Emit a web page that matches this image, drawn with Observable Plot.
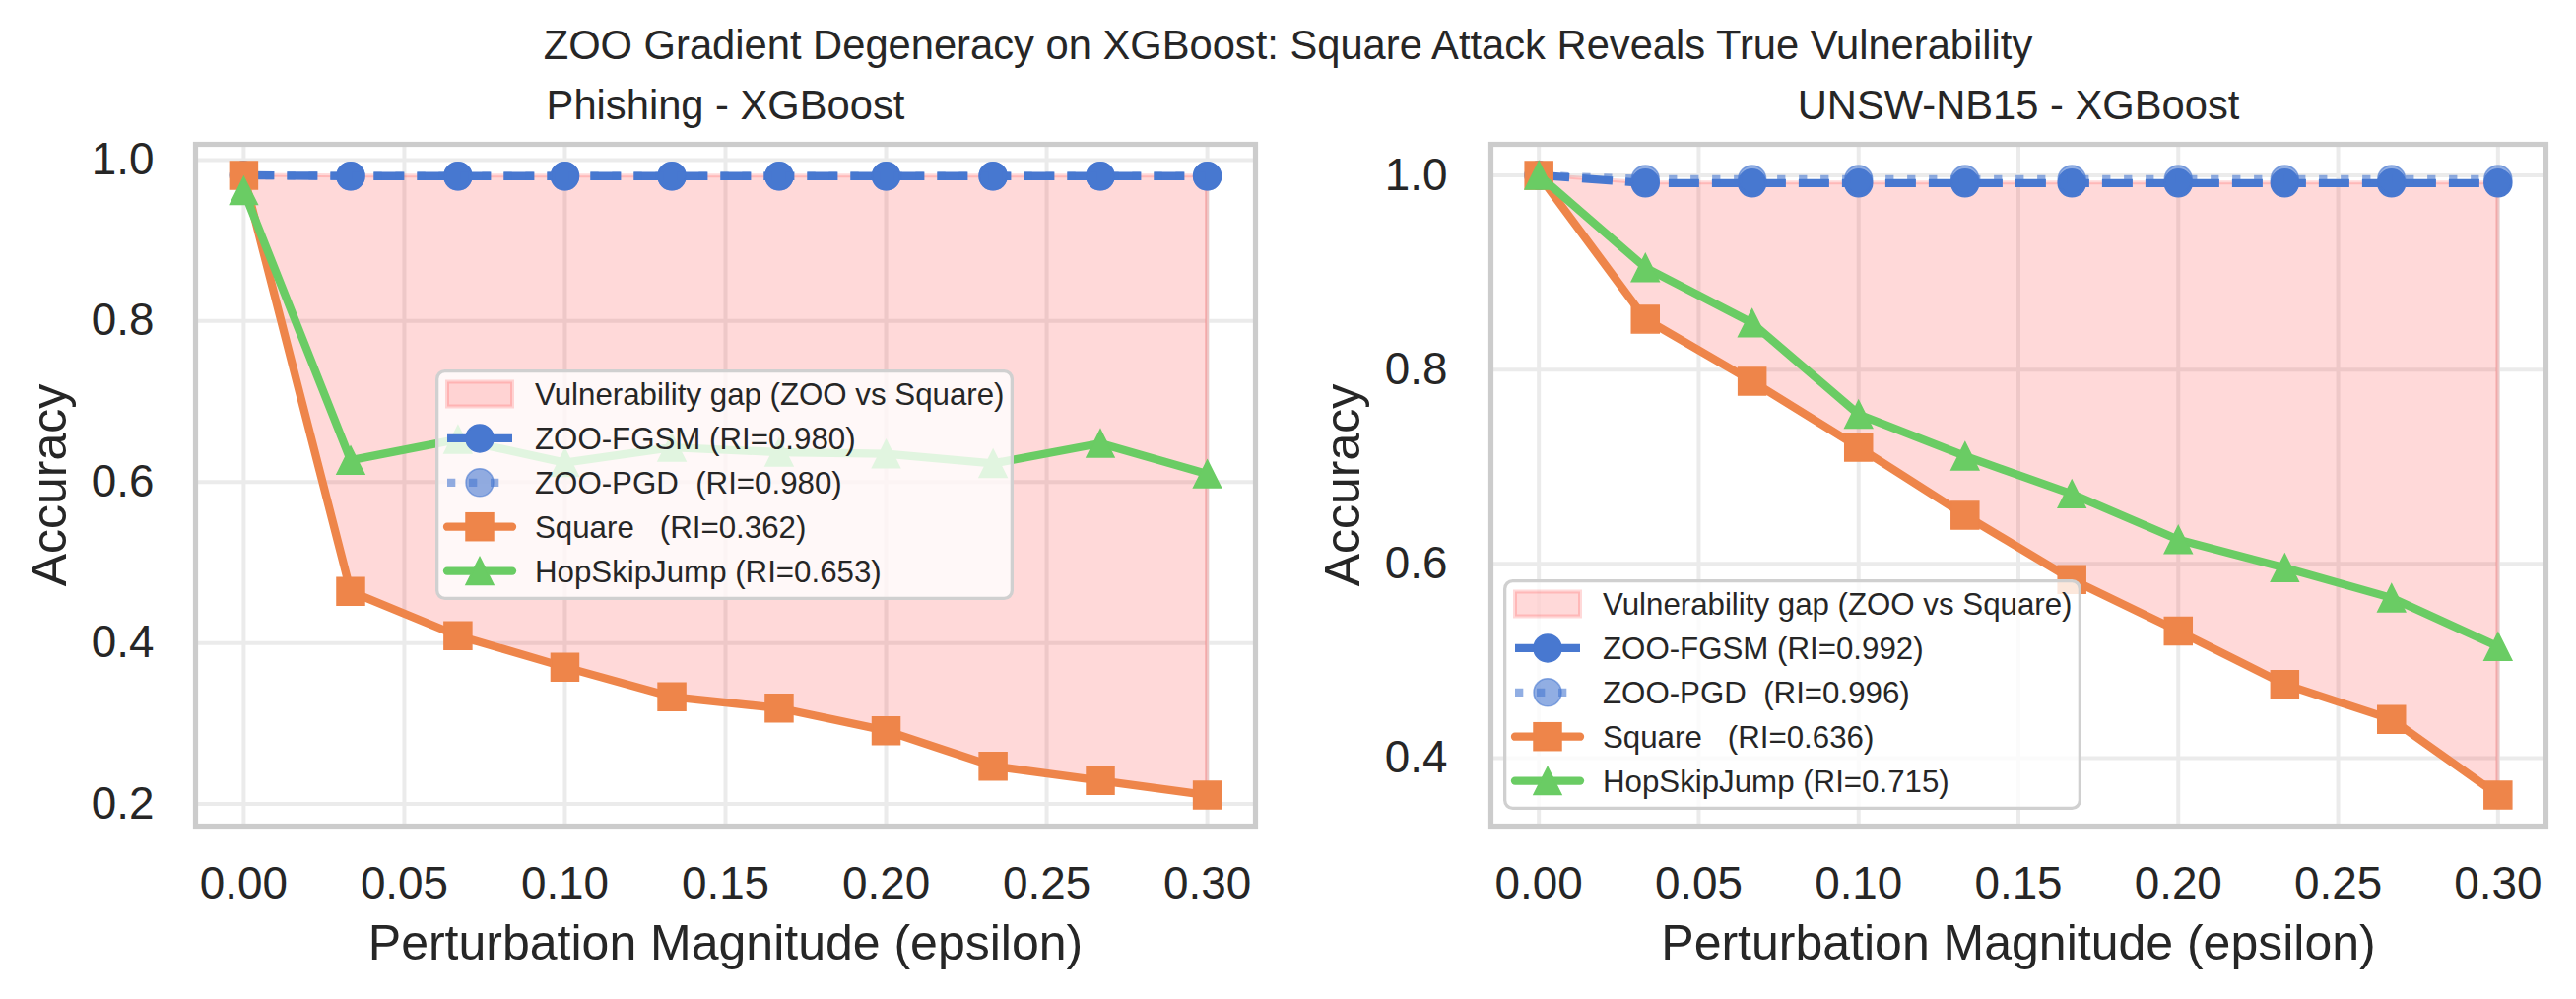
<!DOCTYPE html>
<html>
<head>
<meta charset="utf-8">
<script src="https://cdn.jsdelivr.net/npm/d3@7"></script>
<script src="https://cdn.jsdelivr.net/npm/@observablehq/plot@0.6"></script>
<style>
  body { margin: 0; background: #ffffff; }
  #fig {
    position: relative; width: 2615px; height: 1014px; overflow: hidden;
    font-family: "Liberation Sans", Arial, sans-serif; color: #262626; background: #ffffff;
  }
  .panel { position: absolute; top: 0; }
  .suptitle {
    position: absolute; left: 0; top: 25px; width: 2615px; text-align: center;
    font-size: 41.7px; line-height: 41.7px; white-space: pre;
  }
  .legend { position: absolute; }
</style>
</head>
<body>
<div id="fig">
  <div class="suptitle" id="suptitle"></div>
</div>
<script>
// Perturbation budgets evaluated
const epsilon = [0, 0.0333, 0.0667, 0.1, 0.1333, 0.1667, 0.2, 0.2333, 0.2667, 0.3];

// Phishing - XGBoost accuracy per attack
const phishingZooFgsm = [0.981, 0.980, 0.980, 0.980, 0.980, 0.980, 0.980, 0.980, 0.980, 0.980];
const phishingZooPgd  = [0.981, 0.980, 0.980, 0.980, 0.980, 0.980, 0.980, 0.980, 0.980, 0.980];
const phishingSquare  = [0.981, 0.464, 0.409, 0.370, 0.333, 0.319, 0.291, 0.247, 0.229, 0.211];
const phishingHsj     = [0.962, 0.627, 0.653, 0.624, 0.643, 0.637, 0.635, 0.623, 0.648, 0.610];

// UNSW-NB15 - XGBoost accuracy per attack
const unswZooFgsm = [1.000, 0.992, 0.992, 0.992, 0.992, 0.992, 0.992, 0.992, 0.992, 0.992];
const unswZooPgd  = [1.000, 0.996, 0.996, 0.996, 0.996, 0.996, 0.996, 0.996, 0.996, 0.996];
const unswSquare  = [1.000, 0.852, 0.788, 0.720, 0.650, 0.584, 0.531, 0.476, 0.440, 0.362];
const unswHsj     = [1.000, 0.905, 0.848, 0.754, 0.711, 0.672, 0.625, 0.596, 0.565, 0.515];

// Tick values
const xTicks = [0, 0.05, 0.10, 0.15, 0.20, 0.25, 0.30];
const phishingYTicks = [0.2, 0.4, 0.6, 0.8, 1.0];
const unswYTicks = [0.4, 0.6, 0.8, 1.0];

// Text
const figureTitle = "ZOO Gradient Degeneracy on XGBoost: Square Attack Reveals True Vulnerability";
const panelTitles = ["Phishing - XGBoost", "UNSW-NB15 - XGBoost"];
const xLabel = "Perturbation Magnitude (epsilon)";
const yLabel = "Accuracy";
const gapLabel = "Vulnerability gap (ZOO vs Square)";
const phishingLegendLabels = ["ZOO-FGSM (RI=0.980)", "ZOO-PGD  (RI=0.980)", "Square   (RI=0.362)", "HopSkipJump (RI=0.653)"];
const unswLegendLabels     = ["ZOO-FGSM (RI=0.992)", "ZOO-PGD  (RI=0.996)", "Square   (RI=0.636)", "HopSkipJump (RI=0.715)"];

// Palette
const BLUE = "#4878d0", ORANGE = "#ee854a", GREEN = "#6acc64", GAP = "#ff0000";
const TEXT = "#262626", FONT = '"Liberation Sans", Arial, sans-serif';
const LW = 8.3, DASHED = "31,13", DOTTED = "8.3,13.7", MARKER_R = 14;

// Marker shapes sized so that the half-width equals the dot radius
const squareSymbol = {
  draw(ctx, size) {
    const r = Math.sqrt(size / Math.PI);
    ctx.moveTo(-r, -r); ctx.lineTo(r, -r); ctx.lineTo(r, r); ctx.lineTo(-r, r); ctx.closePath();
  }
};
const triangleSymbol = {
  draw(ctx, size) {
    const r = Math.sqrt(size / Math.PI);
    ctx.moveTo(0, -r); ctx.lineTo(r, r); ctx.lineTo(-r, r); ctx.closePath();
  }
};

function panel({title, fgsm, pgd, square, hsj, yTicks, width, marginLeft, marginRight, tickPadY, yLabelDx}) {
  const rows = epsilon.map((e, i) => ({e, fgsm: fgsm[i], pgd: pgd[i], square: square[i], hsj: hsj[i]}));
  const [ylo, yhi] = d3.extent([...fgsm, ...pgd, ...square, ...hsj]);
  const ypad = (yhi - ylo) * 0.05;
  const [xlo, xhi] = d3.extent(epsilon);
  const xpad = (xhi - xlo) * 0.05;
  const grid = {stroke: "#ebebeb", strokeOpacity: 1, strokeWidth: 4};
  const series = (key, color, opts = {}) => [
    Plot.line(rows, {x: "e", y: key, stroke: color, strokeWidth: LW, strokeLinejoin: "round",
      strokeLinecap: opts.dash ? "butt" : "square", strokeDasharray: opts.dash, strokeOpacity: opts.opacity ?? 1}),
    Plot.dot(rows, {x: "e", y: key, r: MARKER_R, symbol: opts.symbol ?? "circle", fill: color,
      fillOpacity: opts.opacity ?? 1, stroke: color, strokeWidth: 1.5, strokeOpacity: opts.opacity ?? 1})
  ];
  return Plot.plot({
    width, height: 1014, marginLeft, marginRight, marginTop: 146, marginBottom: 176,
    style: {fontFamily: FONT, fontSize: "45.8px", color: TEXT, background: "transparent", overflow: "visible"},
    x: {domain: [xlo - xpad, xhi + xpad]},
    y: {domain: [ylo - ypad, yhi + ypad]},
    marks: [
      Plot.gridX(xTicks, grid),
      Plot.gridY(yTicks, grid),
      Plot.areaY(rows, {x: "e", y1: "square", y2: "fgsm", fill: GAP, fillOpacity: 0.15,
        stroke: GAP, strokeOpacity: 0.15, strokeWidth: 4}),
      ...series("fgsm", BLUE, {dash: DASHED}),
      ...series("pgd", BLUE, {dash: DOTTED, opacity: 0.6}),
      ...series("square", ORANGE, {symbol: squareSymbol}),
      ...series("hsj", GREEN, {symbol: triangleSymbol}),
      Plot.frame({stroke: "#cccccc", strokeWidth: 5.2}),
      Plot.axisX(xTicks, {tickFormat: ".2f", tickSize: 0, tickPadding: 41, label: null, fontSize: 45.8}),
      Plot.axisY(yTicks, {tickFormat: ".1f", tickSize: 0, tickPadding: tickPadY, label: null, fontSize: 45.8}),
      Plot.text([title], {frameAnchor: "top", lineAnchor: "middle", textAnchor: "middle", dy: -38.5,
        fontSize: 41.7, text: d => d, fill: TEXT}),
      Plot.text([xLabel], {frameAnchor: "bottom", lineAnchor: "middle", textAnchor: "middle", dy: 119,
        fontSize: 50, text: d => d, fill: TEXT}),
      Plot.text([yLabel], {frameAnchor: "left", lineAnchor: "middle", textAnchor: "middle", dx: yLabelDx,
        rotate: -90, fontSize: 50, text: d => d, fill: TEXT})
    ]
  });
}

function legend(labels, {left, top}) {
  const w = 587, h = 234, rowY = i => 25 + i * 44.9;
  const svg = d3.create("svg").attr("class", "legend").attr("width", w).attr("height", h)
    .style("left", left + "px").style("top", top + "px").style("font-family", FONT);
  svg.append("rect").attr("x", 1.65).attr("y", 1.65).attr("width", w - 3.3).attr("height", h - 3.3)
    .attr("rx", 8).attr("fill", "#ffffff").attr("fill-opacity", 0.8)
    .attr("stroke", "#d0d0d0").attr("stroke-width", 3.3);
  const x0 = 12, x1 = 78, xm = 45, tx = 101;
  // patch for the shaded gap
  svg.append("rect").attr("x", x0).attr("y", rowY(0) - 12.5).attr("width", x1 - x0).attr("height", 25)
    .attr("fill", GAP).attr("fill-opacity", 0.15).attr("stroke", GAP).attr("stroke-opacity", 0.15).attr("stroke-width", 4);
  const handles = [
    {color: BLUE, dash: DASHED, op: 1, shape: "circle"},
    {color: BLUE, dash: DOTTED, op: 0.6, shape: "circle"},
    {color: ORANGE, dash: null, op: 1, shape: "square"},
    {color: GREEN, dash: null, op: 1, shape: "triangle"}
  ];
  handles.forEach((hd, k) => {
    const y = rowY(k + 1), r = MARKER_R;
    svg.append("line").attr("x1", x0).attr("x2", x1).attr("y1", y).attr("y2", y)
      .attr("stroke", hd.color).attr("stroke-width", LW).attr("stroke-opacity", hd.op)
      .attr("stroke-dasharray", hd.dash).attr("stroke-linecap", hd.dash ? "butt" : "round");
    let m;
    if (hd.shape === "circle") m = svg.append("circle").attr("cx", xm).attr("cy", y).attr("r", r);
    else if (hd.shape === "square") m = svg.append("rect").attr("x", xm - r).attr("y", y - r).attr("width", 2 * r).attr("height", 2 * r);
    else m = svg.append("path").attr("d", `M${xm},${y - r}L${xm + r},${y + r}L${xm - r},${y + r}Z`);
    m.attr("fill", hd.color).attr("fill-opacity", hd.op).attr("stroke", hd.color)
      .attr("stroke-width", 1.5).attr("stroke-opacity", hd.op);
  });
  [gapLabel, ...labels].forEach((t, i) => {
    svg.append("text").attr("x", tx).attr("y", rowY(i) + 11.2).attr("font-size", 31.25)
      .attr("fill", TEXT).style("white-space", "pre").text(t);
  });
  return svg.node();
}

const fig = document.getElementById("fig");
document.getElementById("suptitle").textContent = figureTitle;

const left = panel({title: panelTitles[0], fgsm: phishingZooFgsm, pgd: phishingZooPgd, square: phishingSquare,
  hsj: phishingHsj, yTicks: phishingYTicks, width: 1307, marginLeft: 198, marginRight: 33, tickPadY: 42, yLabelDx: -148});
left.classList.add("panel"); left.style.left = "0px"; left.style.position = "absolute";
fig.appendChild(left);

const right = panel({title: panelTitles[1], fgsm: unswZooFgsm, pgd: unswZooPgd, square: unswSquare,
  hsj: unswHsj, yTicks: unswYTicks, width: 1308, marginLeft: 206, marginRight: 31, tickPadY: 44, yLabelDx: -150});
right.classList.add("panel"); right.style.left = "1307px"; right.style.position = "absolute";
fig.appendChild(right);

fig.appendChild(legend(phishingLegendLabels, {left: 442, top: 375}));
fig.appendChild(legend(unswLegendLabels, {left: 1526, top: 588}));
</script>
</body>
</html>
